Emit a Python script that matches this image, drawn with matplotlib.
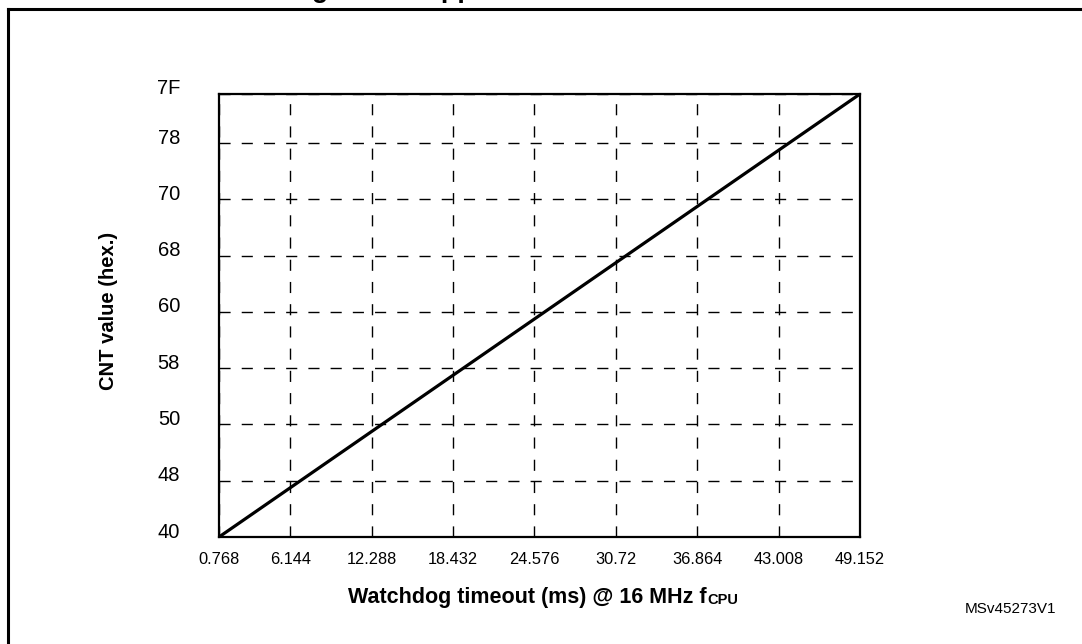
import matplotlib
matplotlib.use("Agg")
import matplotlib.pyplot as plt
from matplotlib.lines import Line2D
from matplotlib.transforms import ScaledTranslation

plt.rcParams['font.family'] = ['Liberation Sans', 'DejaVu Sans']

# watchdog timeout ticks (ms) and CNT ticks (hex)
timeout_ms = [0.768, 6.144, 12.288, 18.432, 24.576, 30.72, 36.864, 43.008, 49.152]
timeout_labels = ["0.768", "6.144", "12.288", "18.432", "24.576", "30.72", "36.864", "43.008", "49.152"]
cnt_values = [0x40, 0x48, 0x50, 0x58, 0x60, 0x68, 0x70, 0x78, 0x7F]
cnt_labels = ["40", "48", "50", "58", "60", "68", "70", "78", "7F"]

# the line: from min timeout at CNT=40 to max timeout at CNT=7F
line_timeout = [0.768, 49.152]
line_cnt = [0x40, 0x7F]

W, H = 1082, 644
fig = plt.figure(figsize=(W / 100, H / 100), dpi=100)
ax = fig.add_axes([219 / W, 1 - 537 / H, (860 - 219) / W, (537 - 94) / H])

ax.plot(line_timeout, line_cnt, color='black', lw=2.3, solid_capstyle='butt')

ax.set_xlim(timeout_ms[0], timeout_ms[-1])
ax.set_ylim(cnt_values[0], cnt_values[-1])
ax.set_xticks(timeout_ms)
ax.set_xticklabels(timeout_labels, fontsize=11.8)
ax.set_yticks(cnt_values)
ax.set_yticklabels(cnt_labels, fontsize=14.5)
ax.tick_params(axis='x', length=0, pad=11)
ax.tick_params(axis='y', length=0, pad=28)

# y labels sit a little above their grid lines
for lab in ax.get_yticklabels():
    lab.set_transform(lab.get_transform() + ScaledTranslation(0, 7 / 100, fig.dpi_scale_trans))

ax.grid(True, color='black', lw=1.0, ls=(0, (8, 8)))
for sp in ax.spines.values():
    sp.set_linewidth(1.6)

# axis titles
xl = fig.text(348 / W, 1 - 603 / H, "Watchdog timeout (ms) @ 16 MHz f",
              fontsize=15.5, fontweight='bold', ha='left', va='baseline')
fig.canvas.draw()
ax.annotate("CPU", xy=(1, 0), xycoords=xl, xytext=(0.5, 1), textcoords='offset points',
            fontsize=10.5, fontweight='bold', ha='left', va='bottom')
fig.text(109 / W, 1 - 311 / H, "CNT value (hex.)", rotation=90,
         fontsize=14.5, fontweight='bold', ha='center', va='center')

fig.text(1011 / W, 1 - 613 / H, "MSv45273V1", fontsize=11, ha='center', va='baseline')

# cut-off caption above the frame (only descenders show)
fig.text(288 / W, 1 + 3 / H, "Figure 50. Approximate timeout duration",
         fontsize=19.4, fontweight='bold', ha='left', va='baseline')

# frame (left and top edges)
fx, fy = 7.5 / W, 1 - 8.5 / H
fig.add_artist(Line2D([fx, fx], [0, fy], color='black', lw=2.2, transform=fig.transFigure))
fig.add_artist(Line2D([fx, 1], [fy, fy], color='black', lw=2.2, transform=fig.transFigure,
                      solid_capstyle='projecting'))

fig.savefig("out.png", dpi=100)
